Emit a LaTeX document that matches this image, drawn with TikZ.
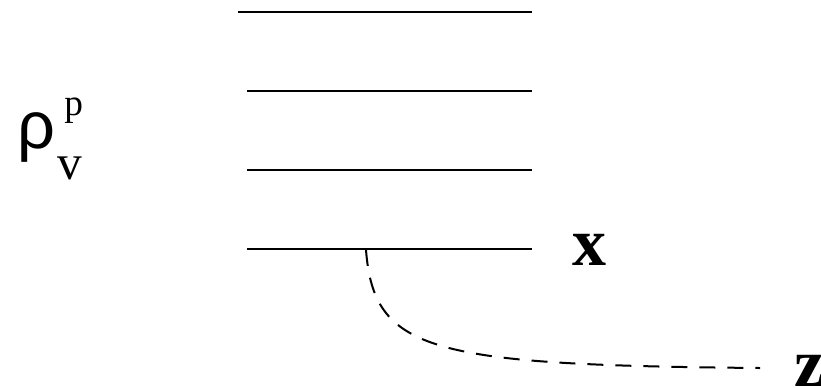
\documentclass[tikz,border=0pt]{standalone}
\usepackage{fontspec}
\setmainfont{Liberation Serif}
\newfontfamily\rhofont{Liberation Sans}
\usetikzlibrary{positioning}

\begin{document}
\begin{tikzpicture}[
  x=0.75pt, y=-0.75pt,
  lvl/.style={line width=1.8pt, black},
  lab/.style={inner sep=0pt, anchor=base west},
  bold/.style={lab, font=\fontsize{51}{51}\selectfont\bfseries},
  lk/.style={dashed, line width=1.5pt, dash pattern=on 12pt off 9pt}]
\useasboundingbox (0,0) rectangle (821,387);
% levels
\draw[lvl] (238,12) -- (532,12);
\draw[lvl] (247,91) -- (532,91);
\draw[lvl] (247,170) -- (532,170);
\draw[lvl] (247,249) -- (532,249);
% labels
\node[lab, font=\fontsize{50}{50}\selectfont\rhofont] (rho) at (17,148) {ρ};
\node[lab, font=\fontsize{28}{28}\selectfont] (sup) at (64,115) {p};
\node[lab, font=\fontsize{37}{37}\selectfont] (sub) at (57,179) {v};
\node[bold] (xl) at (572,265) {x};
\node[bold] (zl) at (794,386) {z};
% link
\coordinate (foot) at (366,250);
\coordinate (tail) at (760,368);
\draw[lk] (foot) .. controls (374,352) and (430,365) .. (tail);
\end{tikzpicture}
\end{document}
